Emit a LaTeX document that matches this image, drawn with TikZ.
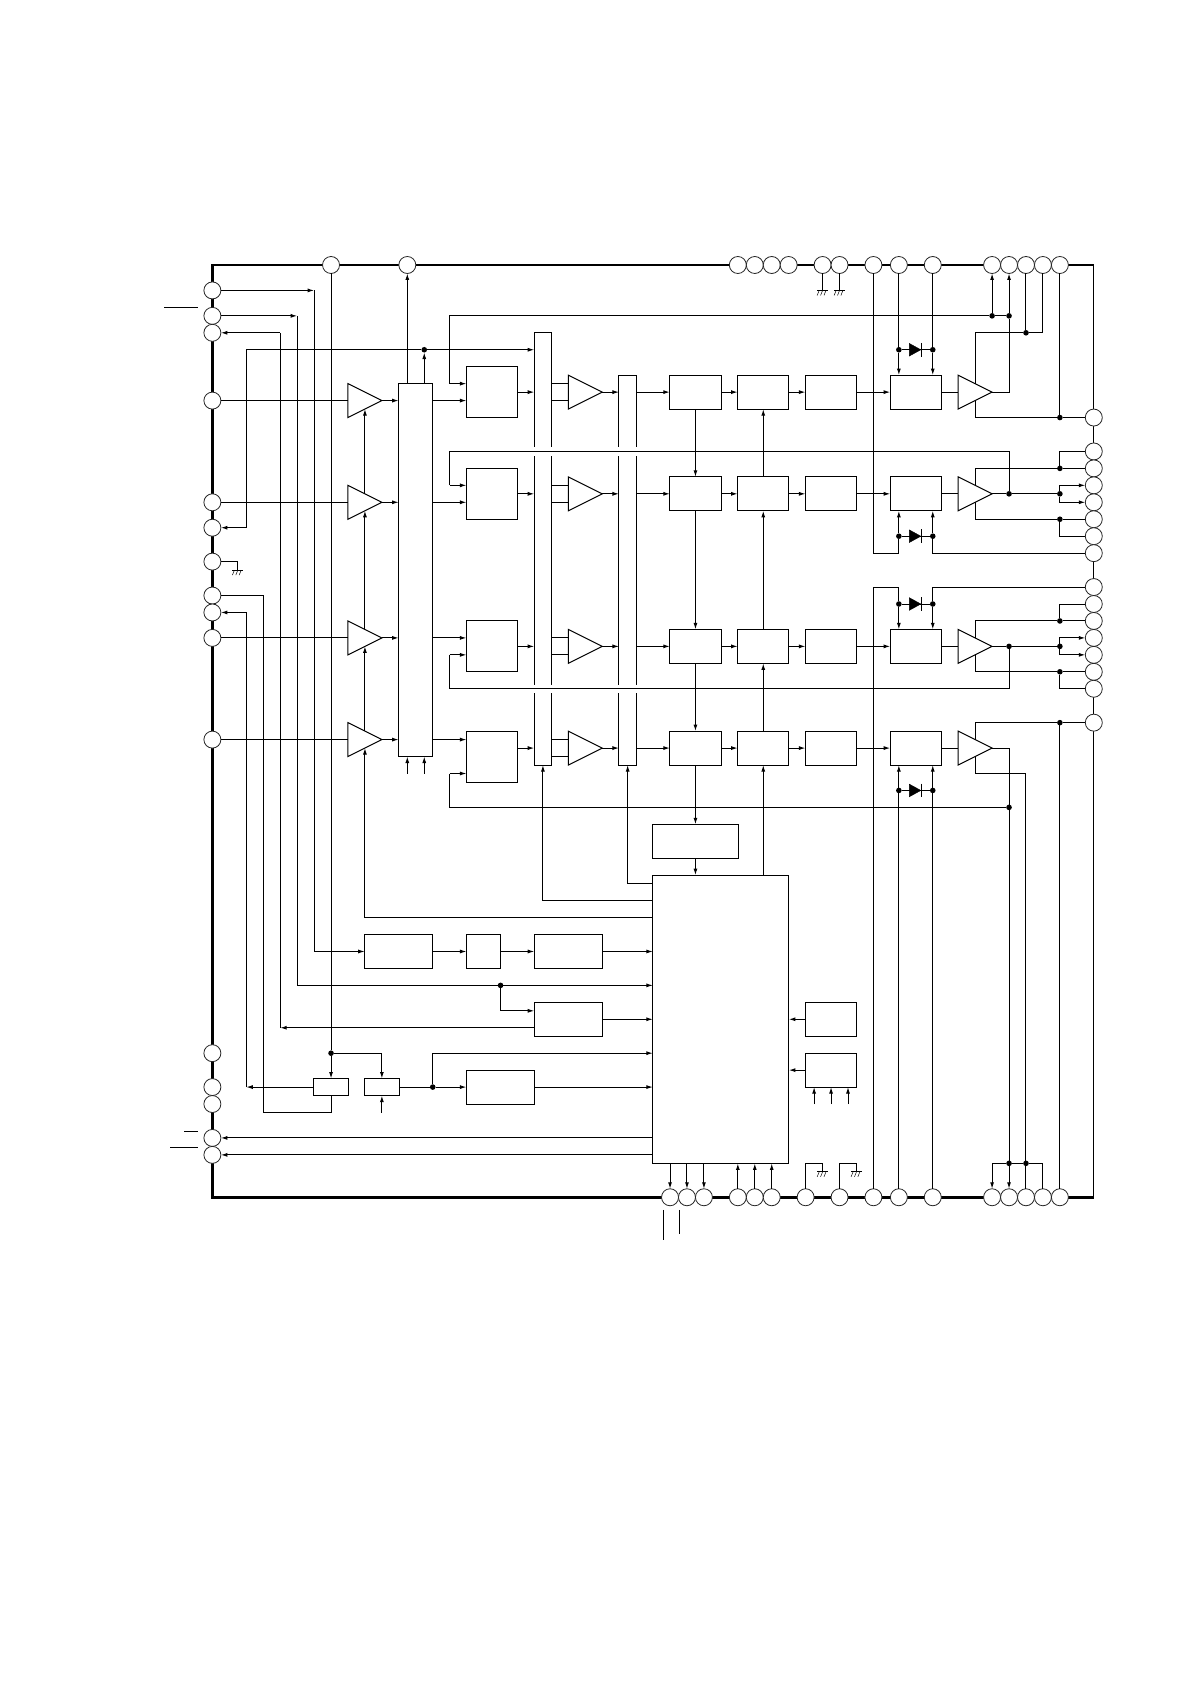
\documentclass[tikz,border=0pt]{standalone}
\usetikzlibrary{arrows.meta,shapes.geometric}
\tikzset{
  wire/.style={line width=1pt,line cap=butt,line join=miter},
  arr/.style={wire,-{Latex[length=6.5pt,width=4pt]}},
  blk/.style n args={2}{draw,line width=1pt,fill=white,inner sep=0pt,outer sep=0pt,
    minimum width=#1*16.95pt+.4pt,minimum height=#2*16.95pt+.2pt},
  amp/.style={draw,line width=1pt,fill=white,inner sep=0pt,outer sep=0pt,
    isosceles triangle,isosceles triangle stretches,shape border rotate=0,
    minimum width=33.9pt,minimum height=33.9pt,anchor=apex},
  pinc/.style={circle,draw=black!85,line width=.8pt,fill=white,inner sep=0pt,outer sep=0pt,minimum size=17pt},
  dot/.style={circle,fill=black,inner sep=0pt,outer sep=0pt,minimum size=5.6pt},
  gndbar/.style={line width=.7pt},
  frame/.style={line width=2.6pt,line join=miter},
  overbar/.style={line width=.9pt},
  diode/.style={fill=black,draw=black,line width=.4pt},
}
\newcommand{\gndat}[1]{%
  \draw[gndbar] ([xshift=-5.4pt]#1) -- ([xshift=5.4pt]#1);
  \foreach \dx in {-3.4,0,3.4}
    \draw[line width=.5pt] ([xshift=\dx pt]#1) -- ([xshift=\dx pt-2pt,yshift=-5pt]#1);
}
\newcommand{\diodeat}[1]{%
  \fill[diode] ([xshift=-6.5pt,yshift=6.3pt]#1) -- ([xshift=-6.5pt,yshift=-6.3pt]#1) -- ([xshift=5pt]#1) -- cycle;
  \draw[line width=1pt] ([xshift=5.4pt,yshift=6.8pt]#1) -- ([xshift=5.4pt,yshift=-6.8pt]#1);
}
\begin{document}
\begin{tikzpicture}[x=16.95pt,y=-16.95pt]
\useasboundingbox (-12.53,-15.634) rectangle (57.676,83.717);
\fill[white] (-12.53,-15.634) rectangle (57.676,83.717);

% package outline
\coordinate (fTR) at (52,0); \coordinate (fTL) at (0,0);
\coordinate (fBL) at (0,55); \coordinate (fBR) at (52,55);
\draw[frame] (fTR) -- (fTL) -- (fBL) -- (fBR);
\draw[wire] (fTR) -- (fBR);

% pins
\foreach \n/\y in {a/1.5,b/3,c/4,d/8,e/14,f/15.5,g/17.5,h/19.5,i/20.5,j/22,k/28,l/46.5,m/48.5,n/49.5,o/51.5,p/52.5}
  \node[pinc] (L\n) at (0,\y) {};
\foreach \n/\x in {a/7,b/11.5,c/31,d/32,e/33,f/34,g/36,h/37,i/39,j/40.5,k/42.5,l/46,m/47,n/48,o/49,p/50}
  \node[pinc] (T\n) at (\x,0) {};
\foreach \n/\x in {a/27,b/28,c/29,d/31,e/32,f/33,g/35,h/37,i/39,j/40.5,k/42.5,l/46,m/47,n/48,o/49,p/50}
  \node[pinc] (B\n) at (\x,55) {};
\foreach \n/\y in {a/9,b/11,c/12,d/13,e/14,f/15,g/16,h/17,i/19,j/20,k/21,l/22,m/23,n/24,o/25,p/27}
  \node[pinc] (R\n) at (52,\y) {};

% bars and blocks
\node[blk={2}{22}] (bus) at (12,18) {};
\node[blk={1}{25.5}] (barA) at (19.5,16.75) {};
\node[blk={1}{23}] (barB) at (24.5,18) {};
% gaps in the bars where the feedback lines cross
\foreach \y in {11,25} \foreach \x in {19,20,24,25}
  \draw[white,line width=2pt] (\x,\y-.24) -- (\x,\y+.24);

\foreach \i/\y in {1/7.5,2/13.5,3/22.5,4/28.5}{
  \node[amp] (am\i) at (23,\y) {};
  \node[blk={3}{2}] (A\i) at (28.5,\y) {};
  \node[blk={3}{2}] (Q\i) at (32.5,\y) {};
  \node[blk={3}{2}] (C\i) at (36.5,\y) {};
  \node[blk={3}{2}] (D\i) at (41.5,\y) {};
  \node[amp] (ao\i) at (46,\y) {};
}
\foreach \i/\y in {1/8,2/14,3/22,4/28}
  \node[amp] (ai\i) at (10,\y) {};
\node[blk={3}{3}] (Sw1) at (16.5,7.5) {};
\node[blk={3}{3}] (Sw2) at (16.5,13.5) {};
\node[blk={3}{3}] (Sw3) at (16.5,22.5) {};
\node[blk={3}{3}] (Sw4) at (16.5,29) {};
\node[blk={5}{2}] (E) at (28.5,34) {};
\node[blk={8}{17}] (mcu) at (30,44.5) {};
\node[blk={4}{2}] (P1) at (11,40.5) {};
\node[blk={2}{2}] (P2) at (16,40.5) {};
\node[blk={4}{2}] (P3) at (21,40.5) {};
\node[blk={4}{2}] (P4) at (21,44.5) {};
\node[blk={2}{1}] (S1) at (7,48.5) {};
\node[blk={2}{1}] (S2) at (10,48.5) {};
\node[blk={4}{2}] (P5) at (17,48.5) {};
\node[blk={3}{2}] (M1) at (36.5,44.5) {};
\node[blk={3}{2}] (M2) at (36.5,47.5) {};

% junction dots
\foreach \n/\x/\y in {bu/12.5/5,
  f1a/46/3,f1b/47/3,t1a/48/4,b1a/50/9,
  o2/47/13.5,f2/50/13.5,u2/50/12,l2/50/15,
  o3/47/22.5,f3/50/22.5,u3/50/21,l3/50/24,
  u4/50/27,f4/47/32,
  bm/47/53,bn/48/53,
  j17/17/42.5,j7/7/46.5,j13/13/48.5,
  dl1/40.5/5,dr1/42.5/5,dl2/40.5/16,dr2/42.5/16,dl3/40.5/20,dr3/42.5/20,dl4/40.5/31,dr4/42.5/31}
  \node[dot] (\n) at (\x,\y) {};

% free corners and free ends
\coordinate (ca) at (6,1.5);
\coordinate (cb) at (5,3);
\coordinate (cc) at (4,4);
\coordinate (cf) at (2,15.5);
\coordinate (ci) at (2,20.5);
\coordinate (ch) at (3,19.5);

% channel rows
\foreach \i/\p in {1/d,2/e,3/j,4/k}{
  \draw[wire] (L\p) -- (ai\i.lower side);
  \draw[arr] (ai\i.apex) -- (bus.west |- ai\i.apex);
  \draw[arr] (bus.east |- ai\i.apex) -- (Sw\i.west |- ai\i.apex);
}
\foreach \i/\a/\b in {1/7/8,2/13/14,3/22/23,4/28/29}{
  \draw[wire] (barA.east |- 0,\a) -- (am\i.lower side |- 0,\a);
  \draw[wire] (barA.east |- 0,\b) -- (am\i.lower side |- 0,\b);
}
\foreach \i/\y in {1/7.5,2/13.5,3/22.5,4/28.5}{
  \draw[arr] (Sw\i.east |- 0,\y) -- (barA.west |- 0,\y);
  \draw[arr] (am\i.apex) -- (barB.west |- am\i.apex);
  \draw[arr] (barB.east |- A\i.west) -- (A\i.west);
  \draw[arr] (A\i.east) -- (Q\i.west);
  \draw[arr] (Q\i.east) -- (C\i.west);
  \draw[arr] (C\i.east) -- (D\i.west);
  \draw[wire] (D\i.east) -- (ao\i.lower side);
}
% vertical control lines between rows
\draw[arr] (A1.south) -- (A2.north);
\draw[arr] (A2.south) -- (A3.north);
\draw[arr] (A3.south) -- (A4.north);
\draw[arr] (A4.south) -- (E.north);
\draw[arr] (E.south) -- (E.south |- mcu.north);
\draw[arr] (Q2.north) -- (Q1.south);
\draw[arr] (Q3.north) -- (Q2.south);
\draw[arr] (Q4.north) -- (Q3.south);
\draw[arr] (Q4.south |- mcu.north) -- (Q4.south);

% gain control to input amps
\draw[arr] (mcu.west |- 0,38.5) -- (9,38.5) -- (9,28.5);
\draw[arr] (9,27.5) -- (9,22.5);
\draw[arr] (9,21.5) -- (9,14.5);
\draw[arr] (9,13.5) -- (9,8.5);
% mcu to the two bars
\draw[arr] (mcu.west |- 0,37.5) -| (barA.south);
\draw[arr] (mcu.west |- 0,36.5) -| (barB.south);

% bus outputs and inputs
\draw[arr] (11.5,7) -- (Tb);
\draw[arr] (12.5,7) -- (bu);
\draw[arr] (11.5,30) -- (11.5,29);
\draw[arr] (12.5,30) -- (12.5,29);

% line y=5 to bar A and pin f
\draw[wire] (bu) -- (2,5) -- (cf);
\draw[arr] (cf) -- (Lf);
\draw[arr] (bu) -- (barA.west |- bu);

% feedback lines to the switch blocks
\draw[wire] (f1a) -- (14,3) -- (14,7);
\draw[arr] (14,7) -- (Sw1.west |- 0,7);
\draw[wire] (f1a) -- (f1b);
\draw[arr] (f1a) -- (Tl);
\draw[arr] (f1b) -- (Tm);
\draw[wire] (o2) -- (47,11) -- (14,11) -- (14,13);
\draw[arr] (14,13) -- (Sw2.west |- 0,13);
\draw[wire] (o3) -- (47,25) -- (14,25) -- (14,23);
\draw[arr] (14,23) -- (Sw3.west |- 0,23);
\draw[wire] (f4) -- (14,32) -- (14,30);
\draw[arr] (14,30) -- (Sw4.west |- 0,30);

% left hand lines
\draw[arr] (La) -- (ca);
\draw[arr] (ca) |- (P1.west);
\draw[arr] (P1.east) -- (P2.west);
\draw[arr] (P2.east) -- (P3.west);
\draw[arr] (P3.east) -- (mcu.west |- P3.east);
\draw[arr] (Lb) -- (cb);
\draw[wire] (cb) |- (j17);
\draw[arr] (j17) -- (mcu.west |- j17);
\draw[arr] (j17) |- (P4.west |- 0,44);
\draw[arr] (P4.east) -- (mcu.west |- P4.east);
\draw[arr] (P4.west |- 0,45) -- (4,45);
\draw[wire] (4,45) -- (cc) ;
\draw[arr] (cc) -- (Lc);
\draw[wire] (Ta) -- (j7);
\draw[arr] (j7) -- (S1.north);
\draw[arr] (j7) -| (S2.north);
\draw[arr] (S1.west) -- (2,48.5);
\draw[wire] (2,48.5) -- (ci);
\draw[arr] (ci) -- (Li);
\draw[wire] (S1.south) |- (3,50) -- (ch) -- (Lh);
\draw[wire] (S2.east) -- (j13);
\draw[arr] (j13) -- (P5.west);
\draw[wire] (j13) -- (13,46.5);
\draw[arr] (13,46.5) -- (mcu.west |- 0,46.5);
\draw[arr] (P5.east) -- (mcu.west |- P5.east);
\draw[arr] (10,50) -- (S2.south);
\draw[arr] (mcu.west |- Lo) -- (Lo);
\draw[arr] (mcu.west |- Lp) -- (Lp);

% overbars beside the pins
\coordinate (ova) at (-2.83,2.5); \coordinate (ovb) at (-.83,2.5);
\draw[overbar] (ova) -- (ovb);
\coordinate (ovc) at (-1.65,51.1); \coordinate (ovd) at (-.83,51.1);
\draw[overbar] (ovc) -- (ovd);
\coordinate (ove) at (-2.48,52.05); \coordinate (ovf) at (-.83,52.05);
\draw[overbar] (ove) -- (ovf);
\coordinate (ovg) at (26.6,55.75); \coordinate (ovh) at (26.6,57.5);
\draw[overbar] (ovg) -- (ovh);
\coordinate (ovi) at (27.55,55.75); \coordinate (ovj) at (27.55,57.15);
\draw[overbar] (ovi) -- (ovj);

% mcu side blocks
\draw[arr] (M1.west) -- (mcu.east |- M1.west);
\draw[arr] (M2.west) -- (mcu.east |- M2.west);
\foreach \x in {35.5,36.5,37.5} \draw[arr] (\x,49.5) -- (\x,48.5);

% mcu to bottom pins
\foreach \n in {a,b,c} \draw[arr] (mcu.south -| B\n) -- (B\n);
\foreach \n in {d,e,f} \draw[arr] (B\n) -- (mcu.south -| B\n);

% grounds
\draw[wire] (Lg) -- (1.5,17.5) -- (1.5,18);
\gndat{1.5,18}
\draw[wire] (Tg) -- (36,1.5);
\draw[wire] (Th) -- (37,1.5);
\gndat{36,1.5}
\gndat{37,1.5}
\draw[wire] (Bg) -- (35,53) -- (36,53) -- (36,53.5);
\gndat{36,53.5}
\draw[wire] (Bh) -- (37,53) -- (38,53) -- (38,53.5);
\gndat{38,53.5}

% output section, channel 1
\draw[wire] (Tj) -- (dl1); \draw[wire] (Tk) -- (dr1);
\draw[arr] (dl1) -- (dl1 |- D1.north);
\draw[arr] (dr1) -- (dr1 |- D1.north);
\draw[wire] (dl1) -- (dr1);
\draw[wire] (ao1.apex) -- (47,7.5) -- (f1b);
\draw[wire] (45,7) -- (45,4) -- (t1a);
\draw[wire] (t1a) -- (49,4) -- (To);
\draw[wire] (t1a) -- (Tn);
\draw[wire] (45,8) -- (45,9) -- (b1a);
\draw[wire] (b1a) -- (Ra);
\draw[wire] (b1a) -- (Tp);

% channel 2
\draw[wire] (Ti) -- (39,17) -- (40.5,17) -- (dl2);
\draw[arr] (dl2) -- (dl2 |- D2.south);
\draw[arr] (dr2) -- (dr2 |- D2.south);
\draw[wire] (dl2) -- (dr2);
\draw[wire] (dr2) |- (Rh);
\draw[wire] (ao2.apex) -- (o2);
\draw[wire] (o2) -- (f2);
\draw[arr] (f2) -- (50,13) -- (Rd);
\draw[arr] (f2) -- (50,14) -- (Re);
\draw[wire] (45,13) -- (45,12) -- (u2);
\draw[wire] (u2) -- (Rc);
\draw[wire] (u2) |- (Rb);
\draw[wire] (45,14) -- (45,15) -- (l2);
\draw[wire] (l2) -- (Rf);
\draw[wire] (l2) |- (Rg);

% channel 3
\draw[wire] (Bi) -- (39,19) -- (40.5,19) -- (dl3);
\draw[arr] (dl3) -- (dl3 |- D3.north);
\draw[arr] (dr3) -- (dr3 |- D3.north);
\draw[wire] (dl3) -- (dr3);
\draw[wire] (dr3) |- (Ri);
\draw[wire] (ao3.apex) -- (o3);
\draw[wire] (o3) -- (f3);
\draw[arr] (f3) -- (50,22) -- (Rl);
\draw[arr] (f3) -- (50,23) -- (Rm);
\draw[wire] (45,22) -- (45,21) -- (u3);
\draw[wire] (u3) -- (Rk);
\draw[wire] (u3) |- (Rj);
\draw[wire] (45,23) -- (45,24) -- (l3);
\draw[wire] (l3) -- (Rn);
\draw[wire] (l3) |- (Ro);

% channel 4
\draw[wire] (Bj) -- (dl4); \draw[wire] (Bk) -- (dr4);
\draw[arr] (dl4) -- (dl4 |- D4.south);
\draw[arr] (dr4) -- (dr4 |- D4.south);
\draw[wire] (dl4) -- (dr4);
\draw[wire] (ao4.apex) -- (47,28.5) -- (f4);
\draw[wire] (f4) -- (bm);
\draw[arr] (bm) -- (Bm);
\draw[wire] (bm) -- (bn);
\draw[arr] (bm) -- (46,53) -- (Bl);
\draw[wire] (bn) -- (Bn);
\draw[wire] (bn) -- (49,53) -- (Bo);
\draw[wire] (45,29) -- (45,30) -- (48,30) -- (bn);
\draw[wire] (45,28) -- (45,27) -- (u4);
\draw[wire] (u4) -- (Rp);
\draw[wire] (u4) -- (Bp);

% diodes
\diodeat{41.5,5}
\diodeat{41.5,16}
\diodeat{41.5,20}
\diodeat{41.5,31}
\end{tikzpicture}
\end{document}
